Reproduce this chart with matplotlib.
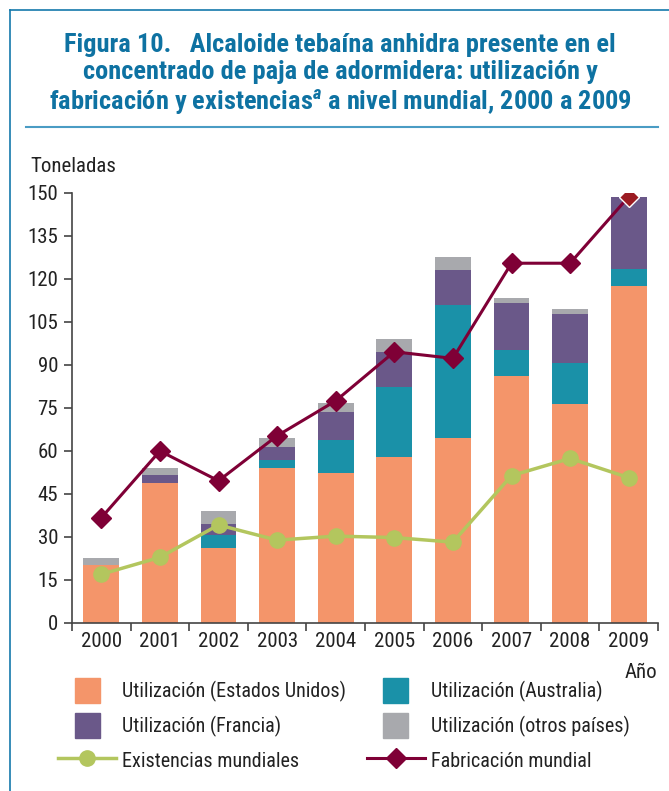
import numpy as np
import matplotlib
matplotlib.use('Agg')
import matplotlib.pyplot as plt
from matplotlib.lines import Line2D
from matplotlib.patches import Patch, Rectangle
from matplotlib.legend_handler import HandlerPatch

plt.rcParams['font.family'] = ['Roboto Condensed', 'Archivo Narrow', 'Liberation Sans Narrow',
                               'Roboto', 'DejaVu Sans']
plt.rcParams['mathtext.fontset'] = 'custom'
plt.rcParams['mathtext.it'] = 'Roboto Condensed:italic:bold'

years = ['2000', '2001', '2002', '2003', '2004', '2005', '2006', '2007', '2008', '2009']
usa = [20.1, 48.8, 26.2, 54.1, 52.3, 57.9, 64.5, 86.2, 76.4, 117.5]
australia = [0.0, 0.0, 4.4, 2.6, 11.4, 24.4, 46.3, 8.9, 14.3, 6.0]
francia = [0.0, 2.7, 3.8, 4.7, 9.8, 12.2, 12.2, 16.4, 17.1, 25.0]
otros = [2.6, 2.5, 4.6, 3.1, 3.1, 4.6, 4.6, 1.9, 1.6, 0.0]
existencias = [16.9, 22.8, 34.1, 28.8, 30.2, 29.7, 28.1, 51.3, 57.3, 50.6]
fabricacion = [36.6, 59.9, 49.5, 65.2, 77.4, 94.5, 92.2, 125.4, 125.4, 148.6]

c_usa = '#F4956A'
c_aus = '#1A91A8'
c_fra = '#6A5889'
c_otr = '#A8A9AD'
c_exi = '#B3C65E'
c_fab = '#7F0036'
c_blue = '#1479AB'


def square_patch(legend, orig_handle, xdescent, ydescent, width, height, fontsize):
    # square swatch centred in the handle box
    s = 25 * 72 / 100.0
    return Rectangle((-xdescent + (width - s) / 2, -ydescent + (height - s) / 2), s, s)


fig = plt.figure(figsize=(6.69, 7.91), dpi=100)

# frame and title
fig.add_artist(Line2D([10/669, 10/669], [0, 1 - 10/791], color=c_blue, lw=1.2))
fig.add_artist(Line2D([10/669, 1], [1 - 10/791, 1 - 10/791], color=c_blue, lw=1.2))
fig.add_artist(Line2D([26/669, 658/669], [1 - 127/791, 1 - 127/791], color='#4a9cc4', lw=1.5))
fig.text(340/669, 1 - 75/791,
         'Figura 10.   Alcaloide tebaína anhidra presente en el\n'
         'concentrado de paja de adormidera: utilización y\n'
         'fabricación y existencias$^{a}$ a nivel mundial, 2000 a 2009',
         ha='center', va='center', color='#0E72A2', fontsize=19, fontweight='bold',
         linespacing=1.18)

ax = fig.add_axes([72/669, 1 - 622.7/791, 586/669, 430/791])
x = np.arange(len(years))
w = 0.61
b = np.zeros(len(years))
for vals, col in [(usa, c_usa), (australia, c_aus), (francia, c_fra), (otros, c_otr)]:
    ax.bar(x, vals, w, bottom=b, color=col, zorder=2)
    b = b + np.array(vals)

ax.plot(x, existencias, color=c_exi, lw=2.5, marker='o', ms=11, zorder=3)
ax.plot(x, fabricacion, color=c_fab, lw=2.2, zorder=4)
ax.plot(x[:-1], fabricacion[:-1], ls='none', marker='D', ms=10, color=c_fab, zorder=5)
ax.plot(x[-1:], fabricacion[-1:], ls='none', marker='D', ms=10, color='#9B1B22',
        mec='white', mew=1, zorder=5)

ax.set_xlim(-0.5, 9.5)
ax.set_ylim(0, 150)
ax.set_yticks(np.arange(0, 151, 15))
ax.set_xticks(np.arange(-0.5, 10, 1))
ax.set_xticklabels([])
ax.set_xticks(x, minor=True)
ax.set_xticklabels(years, minor=True)
ax.tick_params(axis='x', which='minor', length=0, pad=7, labelsize=15, colors='#222222')
ax.tick_params(axis='x', which='major', length=6, width=1.2, color='#444444')
ax.tick_params(axis='y', length=6, width=1.2, color='#444444', labelsize=15,
               labelcolor='#222222', pad=4)
for s in ['top', 'right']:
    ax.spines[s].set_visible(False)
for s in ['left', 'bottom']:
    ax.spines[s].set_color('#444444')
    ax.spines[s].set_linewidth(1.2)

fig.text(30/669, 1 - 166/791, 'Toneladas', fontsize=15, va='center', color='#222222')
fig.text(657/669, 1 - 672/791, 'Año', fontsize=15, ha='right', va='center', color='#222222')

handles = [
    Patch(color=c_usa, label='Utilización (Estados Unidos)'),
    Patch(color=c_aus, label='Utilización (Australia)'),
    Patch(color=c_fra, label='Utilización (Francia)'),
    Patch(color=c_otr, label='Utilización (otros países)'),
    Line2D([], [], color=c_exi, lw=2.5, marker='o', ms=11, label='Existencias mundiales'),
    Line2D([], [], color=c_fab, lw=2.2, marker='D', ms=10, label='Fabricación mundial'),
]
order = [0, 2, 4, 1, 3, 5]
leg = fig.legend([handles[i] for i in order], [handles[i].get_label() for i in order],
                 ncol=2, loc='upper left', bbox_to_anchor=(58/669, 1 - 680/791),
                 frameon=False, fontsize=14.5, handlelength=2.9, handleheight=1.25,
                 columnspacing=1.0, labelspacing=0.62, handletextpad=0.3, borderpad=0,
                 borderaxespad=0, handler_map={Patch: HandlerPatch(patch_func=square_patch)})
for t in leg.get_texts():
    t.set_color('#222222')

fig.savefig('out.png', dpi=100)
